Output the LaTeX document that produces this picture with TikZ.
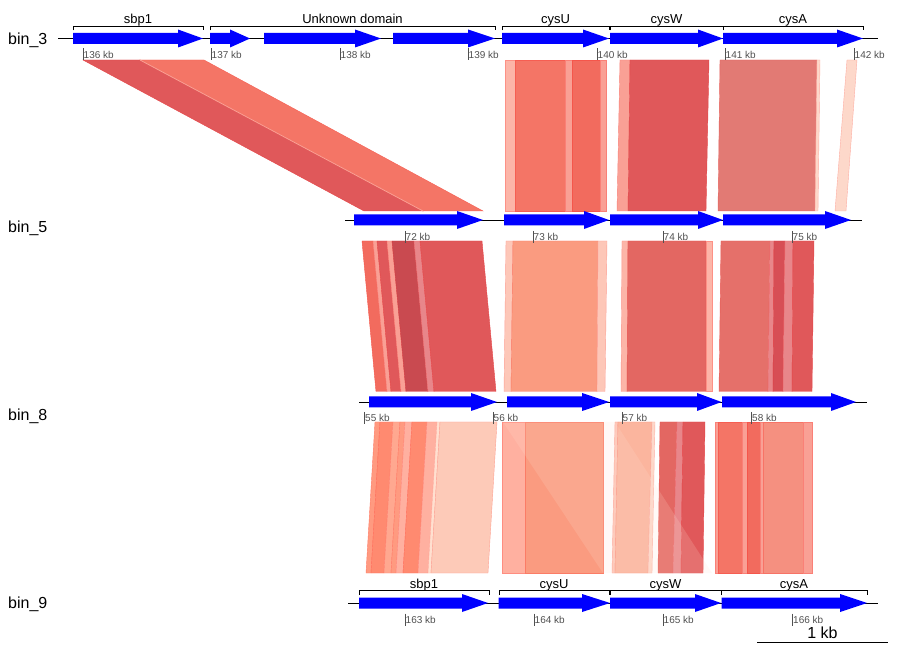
\documentclass[tikz,border=0pt]{standalone}
\usepackage{fontspec}
\setmainfont{Liberation Sans}
\usetikzlibrary{positioning}

\definecolor{genefill}{HTML}{0000FF}
\definecolor{tickgray}{HTML}{505050}
\definecolor{hitdark}{HTML}{E0585A}
\definecolor{hitsalmon}{HTML}{F47566}
\definecolor{hitcoral}{HTML}{F26B5E}
\definecolor{hitblush}{HTML}{FCB5A8}
\definecolor{hitrose}{HTML}{F9A095}
\definecolor{hitdusty}{HTML}{E27A74}
\definecolor{hitpeach}{HTML}{FDD8CA}
\definecolor{hitmaroon}{HTML}{C94A50}
\definecolor{hitmauve}{HTML}{E8868A}
\definecolor{hitapricot}{HTML}{FA9B80}
\definecolor{hitcream}{HTML}{FDC7B8}
\definecolor{hitbrick}{HTML}{E36762}
\definecolor{hitterra}{HTML}{E5706A}
\definecolor{hitcrimson}{HTML}{D74E55}
\definecolor{hitorange}{HTML}{FF8A70}
\definecolor{hitlight}{HTML}{FFB0A0}
\definecolor{hitsand}{HTML}{FDCAB8}
\definecolor{hittan}{HTML}{FBB59E}
\definecolor{hitmelon}{HTML}{F59080}
\definecolor{hitmango}{HTML}{FF9A80}
\definecolor{hitshell}{HTML}{FFA890}
\definecolor{hitivory}{HTML}{FFE0D0}

\tikzset{
  genome/.style={line width=0.8pt},
  bracket/.style={line width=0.6pt},
  genelabel/.style={font=\fontsize{13}{15}\selectfont, anchor=base, inner sep=1pt},
  binlabel/.style={font=\fontsize{16}{18}\selectfont, anchor=base west, inner sep=0pt},
  ticklabel/.style={font=\fontsize{10}{12}\selectfont, text=tickgray, anchor=west, inner sep=0.5pt},
  tickmark/.style={draw=tickgray, line width=0.6pt},
  hit/.style={fill=#1, draw=#1!80!red, line width=0.4pt},
}

% gene arrow: start, head start, tip, row y
\newcommand\drawgene[4]{\fill[genefill] (#1,#4-5.5) -- (#2,#4-5.5) -- (#2,#4-9) -- (#3,#4)
  -- (#2,#4+9) -- (#2,#4+5.5) -- (#1,#4+5.5) -- cycle;}
% comparison band: colour, top left, top right, bottom left, bottom right, top y, bottom y
\newcommand\hitband[7]{\filldraw[hit=#1] (#2,#6) -- (#3,#6) -- (#5,#7) -- (#4,#7) -- cycle;}

\begin{document}
\begin{tikzpicture}[x=1pt, y=-1pt]
  \useasboundingbox (0,0) rectangle (898,652);

  % comparisons bin_3 -> bin_5
  \foreach \c/\a/\b/\d/\e in {hitdark/83/140/364/423, hitsalmon/140/204/423/483,
      hitblush/505/515/505/515, hitsalmon/515/565/515/565, hitrose/565/572/565/572,
      hitcoral/572/600/572/600, hitrose/600/606/600/606,
      hitrose/620/630/617/628, hitdark/630/709/628/706,
      hitdusty/720/817/718/815, hitpeach/817/820/815/818, hitpeach/847/857/835/846}
    {\hitband{\c}{\a}{\b}{\d}{\e}{60}{211}}
  \draw[hitrose, line width=0.8pt] (140,60) -- (423,211);

  % comparisons bin_5 -> bin_8
  \foreach \c/\a/\b/\d/\e in {hitcoral/362/373/376/387, hitrose/373/377/387/391,
      hitdark/377/387/391/401, hitrose/387/392/401/406, hitmaroon/392/414/406/428,
      hitmauve/414/420/428/434, hitdark/420/482/434/496,
      hitcream/506/513/504/511, hitapricot/513/598/511/597, hitcream/598/607/597/605,
      hitblush/622/628/621/627, hitbrick/628/706/627/706, hitblush/706/712/706/712,
      hitterra/721/770/719/768, hitmauve/770/774/768/773, hitcrimson/774/785/773/783,
      hitmauve/785/793/783/792, hitdark/793/814/792/812}
    {\hitband{\c}{\a}{\b}{\d}{\e}{241}{391.5}}

  % comparisons bin_8 -> bin_9
  \foreach \c/\a/\b/\d/\e in {hitmango/375/380/366/371, hitorange/380/393/371/384,
      hitshell/393/400/384/391, hitmango/400/405/391/396, hitlight/405/412/396/403,
      hitorange/412/427/403/418, hitlight/427/437/418/428, hitivory/437/440/428/431,
      hitsand/440/497/431/488,
      hitlight/502/525/502/525, hitapricot/525/603/525/603,
      hitcream/615/618/612/615, hittan/618/652/615/648, hitpeach/652/655/648/652,
      hitbrick/660/677/658/673, hitmauve/677/683/673/681, hitdark/683/705/681/703,
      hitrose/715/718/715/718, hitsalmon/718/742/718/742, hitrose/742/747/742/747,
      hitcoral/747/760/747/760, hitrose/760/763/760/763, hitmelon/763/803/763/803,
      hitrose/803/812/803/812}
    {\hitband{\c}{\a}{\b}{\d}{\e}{422}{573}}
  \fill[hitivory, opacity=0.18] (503,422) -- (615,422) -- (712,573) -- (603,573) -- cycle;

  % bin_3
  \node[binlabel] (lbl3) at (8,44.5) {bin\_3};
  \draw[genome] (58,38.5) -- (878,38.5);
  \foreach \a/\h/\b in {73/178/203, 210/230/250, 264/355/381, 393/468/495,
      502/583/609, 610/698/723, 723/837/863}
    {\drawgene{\a}{\h}{\b}{38.5}}
  \foreach \a/\b/\t/\n in {73/203/sbp1/sbp, 210/495/Unknown domain/unk,
      502/609/cysU/cysu, 610/723/cysW/cysw, 723/863/cysA/cysa}
    {\draw[bracket] (\a,30.5) -- (\a,26) -- (\b,26) -- (\b,30.5);
     \node[genelabel] (t3\n) at ({(\a+\b)/2},23.5) {\t};}
  \foreach \x/\t in {83/136, 211/137, 340/138, 468/139, 597/140, 725/141, 854/142}
    {\draw[tickmark] (\x,48.5) -- (\x,60.5);
     \node[ticklabel] (k3\t) at (\x,54.5) {\t\ kb};}

  % bin_5
  \node[binlabel] (lbl5) at (8,232.5) {bin\_5};
  \draw[genome] (345,220) -- (862,220);
  \foreach \a/\h/\b in {354/457/483, 504/584/609, 610/698/723, 723/825/851}
    {\drawgene{\a}{\h}{\b}{220}}
  \foreach \x/\t in {405/72, 533/73, 663/74, 792/75}
    {\draw[tickmark] (\x,231) -- (\x,243);
     \node[ticklabel] (k5\t) at (\x,237) {\t\ kb};}

  % bin_8
  \node[binlabel] (lbl8) at (8,421) {bin\_8};
  \draw[genome] (359,402) -- (867,402);
  \foreach \a/\h/\b in {369/471/497, 507/582/609, 610/697/721.5, 722/831/856}
    {\drawgene{\a}{\h}{\b}{402}}
  \foreach \x/\t in {364.5/55, 493/56, 622/57, 751.5/58}
    {\draw[tickmark] (\x,412) -- (\x,424);
     \node[ticklabel] (k8\t) at (\x,418) {\t\ kb};}

  % bin_9
  \node[binlabel] (lbl9) at (8,608.5) {bin\_9};
  \draw[genome] (348,603) -- (878,603);
  \foreach \a/\h/\b in {359/462/488, 498.5/582/610, 610/695/721, 721.5/840/867}
    {\drawgene{\a}{\h}{\b}{603}}
  \foreach \a/\b/\t/\n in {359/489/sbp1/sbp, 499/609/cysU/cysu,
      610/721/cysW/cysw, 721/867/cysA/cysa}
    {\draw[bracket] (\a,595) -- (\a,590.5) -- (\b,590.5) -- (\b,595);
     \node[genelabel] (t9\n) at ({(\a+\b)/2},588) {\t};}
  \foreach \x/\t in {405/163, 534/164, 663/165, 792.5/166}
    {\draw[tickmark] (\x,613.5) -- (\x,625.5);
     \node[ticklabel] (k9\t) at (\x,619.5) {\t\ kb};}

  % scale bar
  \coordinate (sbl) at (757,642);
  \coordinate (sbr) at (888,642);
  \draw[line width=0.8pt] (sbl) -- (sbr);
  \node[font=\fontsize{16}{18}\selectfont, anchor=base, inner sep=0pt] (sblabel)
    at (822.5,638) {1 kb};
\end{tikzpicture}
\end{document}
